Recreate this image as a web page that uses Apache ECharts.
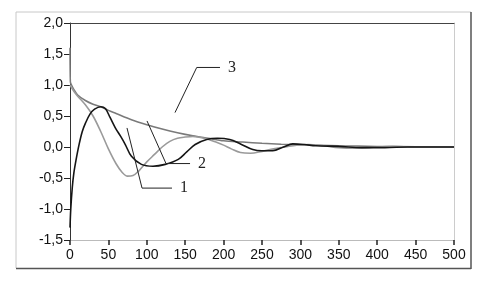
<!DOCTYPE html>
<html>
<head>
<meta charset="utf-8">
<script src="https://cdn.jsdelivr.net/npm/echarts@6/dist/echarts.min.js"></script>
<style>
html,body{margin:0;padding:0;background:#fff;}
#chart{width:488px;height:289px;}
</style>
</head>
<body>
<div id="chart"></div>
<script>
// Axis ticks
var xTicks = [0, 50, 100, 150, 200, 250, 300, 350, 400, 450, 500];
var yTicks = [-1.5, -1.0, -0.5, 0.0, 0.5, 1.0, 1.5, 2.0];

// Curve 3 (envelope, gray)
var envX = [0, 0.5, 2, 5, 10, 20, 30, 40, 50, 60, 80, 100, 120, 140, 160, 180, 200, 225, 250, 275, 300, 350, 400, 450, 500];
var envY = [1.6, 1.05, 1.0, 0.93, 0.84, 0.75, 0.69, 0.65, 0.59, 0.54, 0.44, 0.36, 0.29, 0.23, 0.18, 0.14, 0.10, 0.08, 0.06, 0.045, 0.035, 0.02, 0.01, 0.005, 0];

// Gray oscillating curve
var grayX = [0, 5, 10, 20, 30, 40, 50, 60, 68, 75, 82, 90, 100, 110, 120, 130, 140, 150, 160, 175, 190, 200, 210, 222, 235, 250, 265, 280, 295, 310, 330, 350, 370, 390, 420, 450, 500];
var grayY = [1.0, 0.9, 0.82, 0.68, 0.5, 0.25, -0.03, -0.27, -0.41, -0.47, -0.46, -0.38, -0.24, -0.12, 0.0, 0.09, 0.14, 0.16, 0.17, 0.14, 0.08, 0.03, -0.03, -0.09, -0.1, -0.07, -0.03, 0.0, 0.03, 0.04, 0.02, -0.01, -0.02, -0.01, 0.01, 0, 0];

// Black oscillating curve
var blackX = [0, 1, 3, 5, 8, 12, 16, 20, 26, 32, 40, 46, 52, 59, 66, 72, 80, 93, 108, 124, 141, 152, 163, 178, 192, 208, 222, 238, 250, 264, 278, 290, 305, 320, 350, 380, 410, 440, 470, 500];
var blackY = [-1.3, -1.0, -0.65, -0.42, -0.2, 0.05, 0.25, 0.38, 0.53, 0.61, 0.65, 0.62, 0.48, 0.31, 0.17, 0.04, -0.15, -0.28, -0.31, -0.28, -0.2, -0.08, 0.04, 0.12, 0.14, 0.12, 0.05, -0.04, -0.06, -0.06, 0.0, 0.05, 0.04, 0.02, 0.01, -0.01, -0.01, 0, 0, 0];

// Leader lines for the curve labels (data coordinates)
var labelNames = ['1', '2', '3'];
var lead1X = [74.2, 93.8, 132.8], lead1Y = [0.307, -0.663, -0.663];
var lead2X = [100.3, 125.0, 156.3], lead2Y = [0.42, -0.267, -0.267];
var lead3X = [136.7, 165.0, 195.3], lead3Y = [0.555, 1.283, 1.283];

function zip(xs, ys) { return xs.map(function (x, i) { return [x, ys[i]]; }); }

var chart = echarts.init(document.getElementById('chart'), null, {renderer: 'canvas'});

var axisFont = {fontFamily: 'Liberation Sans', fontSize: 14, color: '#111'};

function leader(xs, ys, name) {
  return {
    type: 'line', data: zip(xs, ys), symbol: 'none', silent: true, animation: false,
    lineStyle: {color: '#222', width: 1},
    endLabel: {show: true, formatter: name, color: '#222', fontFamily: 'Liberation Serif', fontSize: 16, distance: 8},
    z: 5
  };
}

chart.setOption({
  animation: false,
  backgroundColor: '#fff',
  grid: {left: 70, top: 23, right: 34, bottom: 49},
  graphic: [
    {type: 'line', shape: {x1: 16, y1: 12, x2: 471, y2: 12}, style: {stroke: '#c8c8c8', lineWidth: 1}},
    {type: 'line', shape: {x1: 16, y1: 12, x2: 16, y2: 268}, style: {stroke: '#c8c8c8', lineWidth: 1}},
    {type: 'line', shape: {x1: 471, y1: 12, x2: 471, y2: 269}, style: {stroke: '#555', lineWidth: 1.5}},
    {type: 'line', shape: {x1: 16, y1: 268.5, x2: 471, y2: 268.5}, style: {stroke: '#555', lineWidth: 1.5}}
  ],
  xAxis: [{
    type: 'value', min: 0, max: 500, interval: 50, position: 'bottom',
    axisLine: {show: true, onZero: false, lineStyle: {color: '#bbb', width: 1}},
    axisTick: {show: true, length: 5, lineStyle: {color: '#222', width: 1.5}},
    axisLabel: Object.assign({margin: 8, formatter: function (v) { return String(v); }}, axisFont),
    splitLine: {show: false}
  }, {
    type: 'value', min: 0, max: 500, position: 'top',
    axisLine: {show: true, onZero: false, lineStyle: {color: '#444', width: 1}},
    axisTick: {show: false}, axisLabel: {show: false}, splitLine: {show: false}
  }],
  yAxis: [{
    type: 'value', min: -1.5, max: 2.0, interval: 0.5, position: 'left',
    axisLine: {show: true, onZero: false, lineStyle: {color: '#333', width: 1}},
    axisTick: {show: true, length: 6, lineStyle: {color: '#222', width: 1}},
    axisLabel: Object.assign({margin: 7, formatter: function (v) { return v.toFixed(1).replace('.', ','); }}, axisFont),
    splitLine: {show: false}
  }, {
    type: 'value', min: -1.5, max: 2.0, position: 'right',
    axisLine: {show: true, onZero: false, lineStyle: {color: '#ccc', width: 1}},
    axisTick: {show: false}, axisLabel: {show: false}, splitLine: {show: false}
  }],
  series: [
    {type: 'line', name: '3', data: zip(envX, envY), symbol: 'none', smooth: 0.3,
     lineStyle: {color: '#7a7a7a', width: 1.5}, z: 2},
    {type: 'line', name: 'gray', data: zip(grayX, grayY), symbol: 'none', smooth: 0.35,
     lineStyle: {color: '#9a9a9a', width: 1.6}, z: 3},
    {type: 'line', name: 'black', data: zip(blackX, blackY), symbol: 'none', smooth: 0.35,
     lineStyle: {color: '#151515', width: 1.6}, z: 4},
    leader(lead1X, lead1Y, labelNames[0]),
    leader(lead2X, lead2Y, labelNames[1]),
    leader(lead3X, lead3Y, labelNames[2])
  ]
});
</script>
</body>
</html>
